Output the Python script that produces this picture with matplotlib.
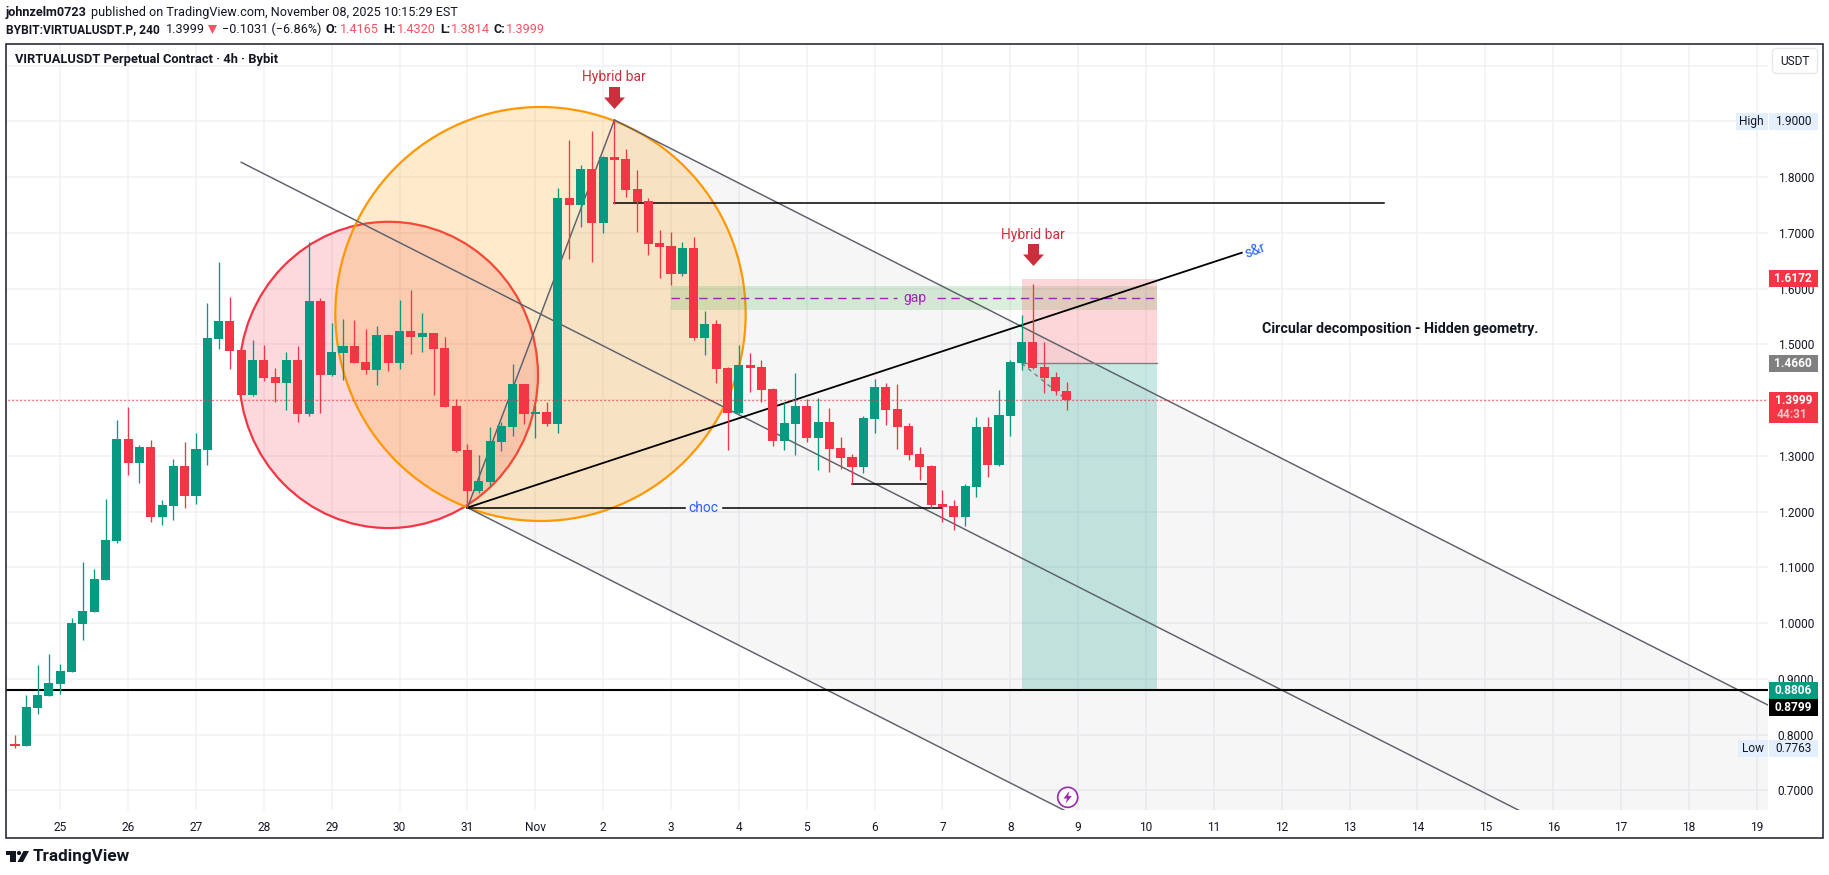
import numpy as np
import matplotlib
matplotlib.use("Agg")
import matplotlib.pyplot as plt
from matplotlib.patches import Ellipse, Polygon, Rectangle, FancyBboxPatch, Circle

plt.rcParams['font.family'] = ['Roboto', 'DejaVu Sans']

# candles, 4h each, first one is index -4 (index 0 = 25 Oct 00:00)
first_idx = -4
opens = [.783, .7794, .8476, .8691, .8906, .9122, .9983, 1.0198, 1.0773, 1.1472, 1.3302, 1.2871, 1.3158, 1.1903, 1.21, 1.2817, 1.2279, 1.3104,
         1.5095, 1.5418, 1.4898, 1.4091, 1.4719, 1.4414, 1.4306, 1.4719, 1.375, 1.5777, 1.445, 1.4844, 1.497, 1.4683, 1.4539, 1.5167, 1.4665,
         1.5239, 1.5131, 1.5203, 1.4934, 1.3894, 1.3104, 1.2369, 1.253, 1.3248, 1.3517, 1.4288, 1.375, 1.3786, 1.3571, 1.7624, 1.7499, 1.8145,
         1.7176, 1.836, 1.8324, 1.7786, 1.7571, 1.6817, 1.6763, 1.6261, 1.6727, 1.5113, 1.5364, 1.4575, 1.3768, 1.4629, 1.4593, 1.4198, 1.3265,
         1.357, 1.3893, 1.3319, 1.3606, 1.314, 1.2978, 1.2799, 1.366, 1.4234, 1.3839, 1.3534, 1.3032, 1.2817, 1.2135, 1.2099, 1.1902, 1.244,
         1.3516, 1.2835, 1.3714, 1.4664, 1.5041, 1.4593, 1.4413, 1.4165]
highs = [.799, .8709, .9247, .9444, .9265, 1.009, 1.1095, 1.097, 1.2225, 1.3643, 1.3876, 1.3194, 1.3284, 1.2208, 1.2943, 1.3248, 1.3409, 1.5741,
         1.6476, 1.5849, 1.4898, 1.5078, 1.4988, 1.4575, 1.4862, 1.497, 1.6835, 1.5831, 1.5382, 1.5454, 1.5436, 1.5275, 1.5329, 1.5185, 1.58,
         1.5974, 1.5562, 1.5203, 1.5131, 1.4019, 1.3212, 1.3015, 1.3517, 1.3607, 1.4647, 1.4288, 1.3912, 1.3965, 1.7804, 1.8665, 1.8216, 1.8826,
         1.8378, 1.9, 1.8503, 1.8127, 1.7624, 1.705, 1.7014, 1.6835, 1.6925, 1.5597, 1.5436, 1.4593, 1.4987, 1.4844, 1.4718, 1.4216, 1.3965,
         1.4485, 1.4019, 1.4037, 1.3857, 1.3337, 1.3032, 1.3714, 1.4377, 1.4306, 1.4288, 1.3588, 1.3158, 1.2835, 1.2386, 1.2207, 1.2494, 1.3696,
         1.3696, 1.418, 1.4718, 1.5525, 1.6082, 1.5041, 1.4503, 1.432]
lows = [.7763, .779, .8368, .8691, .8727, .9122, .9696, 1.0198, 1.0773, 1.1436, 1.2656, 1.2512, 1.1813, 1.1759, 1.1849, 1.2064, 1.2136, 1.2835,
        1.4916, 1.4557, 1.4091, 1.4073, 1.4342, 1.3965, 1.3822, 1.3607, 1.3714, 1.3768, 1.4432, 1.436, 1.4665, 1.4468, 1.427, 1.4521, 1.4557,
        1.4826, 1.4862, 1.4091, 1.3876, 1.3068, 1.2071, 1.2333, 1.2459, 1.3086, 1.3356, 1.3571, 1.332, 1.3535, 1.3409, 1.653, 1.7104, 1.6476,
        1.7, 1.7517, 1.7642, 1.7014, 1.6602, 1.6189, 1.6064, 1.6225, 1.5077, 1.4808, 1.4306, 1.3104, 1.375, 1.4144, 1.3965, 1.3176, 1.3104,
        1.3014, 1.3247, 1.2745, 1.2709, 1.2763, 1.2494, 1.2691, 1.3409, 1.3552, 1.3122, 1.2924, 1.2566, 1.2064, 1.1812, 1.1669, 1.1741, 1.2261,
        1.262, 1.2817, 1.3355, 1.4539, 1.4557, 1.4126, 1.409, 1.3814]
closes = [.779, .8494, .8709, .8924, .9139, 1.0, 1.0216, 1.0791, 1.149, 1.3302, 1.2871, 1.3158, 1.1903, 1.2118, 1.2817, 1.2279, 1.3122, 1.5113,
          1.5418, 1.488, 1.4091, 1.4719, 1.4396, 1.4306, 1.4719, 1.375, 1.5777, 1.445, 1.4862, 1.497, 1.4665, 1.4539, 1.5167, 1.4665, 1.5239,
          1.5131, 1.5203, 1.4916, 1.3876, 1.3086, 1.2369, 1.2548, 1.3266, 1.3535, 1.4288, 1.375, 1.3786, 1.3571, 1.7624, 1.7499, 1.8145, 1.7176,
          1.836, 1.8306, 1.7768, 1.7553, 1.6799, 1.6745, 1.6261, 1.6727, 1.5113, 1.5364, 1.4557, 1.3768, 1.4629, 1.4575, 1.418, 1.3265, 1.3588,
          1.3893, 1.3319, 1.3606, 1.3122, 1.296, 1.2799, 1.3678, 1.4234, 1.3821, 1.3516, 1.3014, 1.2799, 1.2117, 1.2081, 1.1902, 1.2458, 1.3516,
          1.2835, 1.3732, 1.4682, 1.5041, 1.4575, 1.4395, 1.4162, 1.3999]

day_labels = ['25', '26', '27', '28', '29', '30', '31', 'Nov', '2', '3', '4', '5', '6', '7', '8', '9', '10',
              '11', '12', '13', '14', '15', '16', '17', '18', '19']
price_ticks = [.7, .8, .9, 1.0, 1.1, 1.2, 1.3, 1.4, 1.5, 1.6, 1.7, 1.8, 1.9, 2.0]

GREEN = '#089981'
RED = '#f23645'
GREY = '#5d606b'
PURPLE = '#9c27b0'
BLUE = '#2962ff'
INK = '#131722'

W, H = 1829, 875
fig = plt.figure(figsize=(W / 100, H / 100), dpi=100)
L, R, T, B = 6.2, 1768, 44, 810
ax = fig.add_axes([L / W, 1 - B / H, (R - L) / W, (B - T) / H])
ax.set_xlim(-4.78, 150.99)
ax.set_ylim(0.6647, 2.0387)

# grid + axis labels
ax.set_xticks(np.arange(len(day_labels)) * 6)
ax.set_xticklabels(day_labels, fontsize=8.6, color=INK)
ax.set_yticks(price_ticks)
ax.set_yticklabels(['%.4f' % p if p < 2 else '' for p in price_ticks], fontsize=8.6, color=INK)
ax.yaxis.tick_right()
ax.tick_params(axis='x', length=0, pad=8)
ax.tick_params(axis='y', length=0, pad=7)
ax.grid(color='#f0f1f4', lw=1.1)
ax.set_axisbelow(True)
for s in ax.spines.values():
    s.set_visible(False)

# pitchfork
slope = -0.01029
x_end = 152
top0, bot0, mid0 = (49, 1.9024), (36, 1.2071), (16, 1.8265)
top1 = top0[1] + slope * (x_end - top0[0])
bot1 = bot0[1] + slope * (x_end - bot0[0])
mid1 = mid0[1] + slope * (x_end - mid0[0])
ax.add_patch(Polygon([bot0, top0, (x_end, top1), (x_end, bot1)], fc=GREY, alpha=.055, ec='none', zorder=1))
for a, b in [(top0, (x_end, top1)), (bot0, (x_end, bot1)), (mid0, (x_end, mid1)), (bot0, top0)]:
    ax.plot([a[0], b[0]], [a[1], b[1]], color=GREY, lw=1.05, zorder=3)

# the two circles
ax.add_patch(Ellipse((29.03, 1.4451), 26.41, .5494, fc=(.949, .212, .271, .19), ec=RED, lw=1.6, zorder=2))
ax.add_patch(Ellipse((42.46, 1.5544), 36.28, .7426, fc=(1, .596, 0, .2), ec='#ff9800', lw=1.6, zorder=2))

# gap box
ax.add_patch(Rectangle((54, 1.5615), 43, .0431, fc=(.298, .686, .314, .2), ec='none', zorder=2))
ax.plot([54, 74], [1.5825, 1.5825], color=PURPLE, lw=1, ls=(0, (6, 4)), zorder=3)
ax.plot([77.5, 97], [1.5825, 1.5825], color=PURPLE, lw=1, ls=(0, (6, 4)), zorder=3)
ax.text(75.6, 1.5825, 'gap', color=PURPLE, fontsize=10, ha='center', va='center', zorder=3)

# short position box
ax.add_patch(Rectangle((85, 1.466), 12, .1512, fc=(.949, .212, .271, .2), ec='none', zorder=2))
ax.add_patch(Rectangle((85, .8806), 12, .5854, fc=(.031, .6, .506, .22), ec='none', zorder=2))
ax.plot([85, 97], [1.466, 1.466], color='#808080', lw=1, zorder=3)
ax.plot([85, 89], [1.466, 1.3999], color='#808080', lw=1, ls=(0, (3, 3)), zorder=3)

# black lines
ax.plot([36, 104.46], [1.2071, 1.6643], color='black', lw=1.3, zorder=3)
ax.plot([49, 117], [1.7529, 1.7529], color='black', lw=1.1, zorder=3)
ax.plot([36, 55.2], [1.2064, 1.2064], color='black', lw=1.1, zorder=3)
ax.plot([58.6, 78], [1.2064, 1.2064], color='black', lw=1.1, zorder=3)
ax.plot([70, 77], [1.2489, 1.2489], color='black', lw=1.1, zorder=3)
ax.plot([-5, 151], [.8799, .8799], color='black', lw=1.5, zorder=3)
ax.text(56.9, 1.2064, 'choc', color=BLUE, fontsize=10, ha='center', va='center', zorder=3)
ax.text(105.6, 1.668, 's&r', color=BLUE, fontsize=10.5, ha='center', va='center', rotation=20, zorder=3)
ax.text(118.5, 1.5274, 'Circular decomposition - Hidden geometry.', color=INK, fontsize=10.3,
        fontweight='bold', ha='center', va='center', zorder=3)

# candles
idx = first_idx + np.arange(len(opens))
o, h, l, c = map(np.array, (opens, highs, lows, closes))
cols = np.where(c >= o, GREEN, RED)
ax.vlines(idx, l, h, colors=cols, lw=.95, zorder=4)
ax.bar(idx, np.maximum(np.abs(c - o), .003), bottom=np.minimum(o, c), width=.8, color=cols, lw=0, zorder=5)

# last price line
ax.plot([-5, 151], [1.3999, 1.3999], color=RED, lw=.9, ls=(0, (1, 2.2)), zorder=6)

# overlay in pixels for frame, header and price tags
ov = fig.add_axes([0, 0, 1, 1], facecolor='none')
ov.set_xlim(0, W)
ov.set_ylim(H, 0)
ov.axis('off')
ov.add_patch(Rectangle((6.2, 43.5), 1816.3, 794.8, fc='none', ec='#2a2e39', lw=1.2))


def tag(x0, x1, y0, y1, bg, txt, col='white', weight='normal'):
    ov.add_patch(Rectangle((x0, y0), x1 - x0, y1 - y0, fc=bg, ec='none'))
    ov.text((x0 + x1) / 2, (y0 + y1) / 2, txt, color=col, fontsize=8.6, ha='center', va='center', fontweight=weight)


def down_arrow(cx, y0):
    ov.add_patch(Polygon([(cx - 5.5, y0), (cx + 5.5, y0), (cx + 5.5, y0 + 10.5), (cx + 10.5, y0 + 10.5),
                          (cx, y0 + 22), (cx - 10.5, y0 + 10.5), (cx - 5.5, y0 + 10.5)], fc='#cc2f3c', ec='none'))


ov.text(614, 77, 'Hybrid bar', color='#cc2f3c', fontsize=10, ha='center', va='center')
down_arrow(614.5, 87)
ov.text(1033, 234.5, 'Hybrid bar', color='#cc2f3c', fontsize=10, ha='center', va='center')
down_arrow(1033.5, 244)

tag(1736, 1767.5, 113.3, 129.7, '#e3effd', 'High', INK)
tag(1769, 1817.7, 113.3, 129.7, '#e3effd', '1.9000', INK)
tag(1769, 1817.7, 270, 286.7, RED, '1.6172', weight='bold')
tag(1769, 1817.7, 355, 371.7, '#808080', '1.4660', weight='bold')
ov.add_patch(Rectangle((1769, 392), 48.7, 30.7, fc=RED, ec='none'))
ov.text(1793.3, 400.5, '1.3999', color='white', fontsize=8.6, ha='center', va='center', fontweight='bold')
ov.text(1792, 414.5, '44:31', color='#fbc1c7', fontsize=8.6, ha='center', va='center', fontweight='bold')
tag(1769, 1817.7, 682.3, 699.3, GREEN, '0.8806', weight='bold')
tag(1769, 1817.7, 699.3, 716, 'black', '0.8799', weight='bold')
tag(1738, 1767.5, 740, 757, '#e3effd', 'Low', INK)
tag(1769, 1817.7, 740, 757, '#e3effd', '0.7763', INK)

ov.add_patch(FancyBboxPatch((1775, 51), 40, 20, boxstyle='round,pad=2.5,rounding_size=4', fc='white', ec='#e6e8ee', lw=1))
ov.text(1795, 61.5, 'USDT', color=INK, fontsize=8.6, ha='center', va='center')

# lightning icon
ov.add_patch(Circle((1067.7, 797.3), 10, fc='white', ec=PURPLE, lw=1.2))
ov.add_patch(Polygon([(1069.5, 791), (1063.5, 798.5), (1067, 798.5), (1065.7, 803.5), (1071.7, 796), (1068.2, 796)],
                     fc=PURPLE, ec='none'))

# header
ov.text(6, 12.7, 'johnzelm0723', color=INK, fontsize=9.1, fontweight='bold', va='center')
ov.text(91, 12.7, 'published on TradingView.com, November 08, 2025 10:15:29 EST', color=INK, fontsize=9.1, va='center')
ov.text(6, 29.3, 'BYBIT:VIRTUALUSDT.P, 240', color=INK, fontsize=8.65, fontweight='bold', va='center')
ov.text(166, 29.3, '1.3999', color=INK, fontsize=9.1, va='center')
ov.add_patch(Polygon([(208, 25), (217, 25), (212.5, 34)], fc='#f7525f', ec='none'))
ov.text(222, 29.3, '\u22120.1031 (\u22126.86%)', color=INK, fontsize=9.1, va='center')
for lab, x_lab, val, x_val in [('O:', 326, '1.4165', 340), ('H:', 383, '1.4320', 397), ('L:', 440, '1.3814', 451), ('C:', 494, '1.3999', 506)]:
    ov.text(x_lab, 29.3, lab, color=INK, fontsize=9.1, fontweight='bold', va='center')
    ov.text(x_val, 29.3, val, color='#f7525f', fontsize=9.1, va='center')
ov.text(15, 60, 'VIRTUALUSDT Perpetual Contract \u00b7 4h \u00b7 Bybit', color=INK, fontsize=9.3, fontweight='bold', va='center')

# TradingView logo
ov.add_patch(Polygon([(6, 851), (15.6, 851), (15.6, 862), (10, 862), (10, 855), (6, 855)], fc=INK, ec='none'))
ov.add_patch(Circle((19, 853), 2.1, fc=INK, ec='none'))
ov.add_patch(Polygon([(23.5, 851), (29, 851), (23, 862), (17.5, 862)], fc=INK, ec='none'))
ov.text(33, 856.5, 'TradingView', color=INK, fontsize=12.3, fontweight='bold', va='center')

fig.savefig('out.png', dpi=100)
